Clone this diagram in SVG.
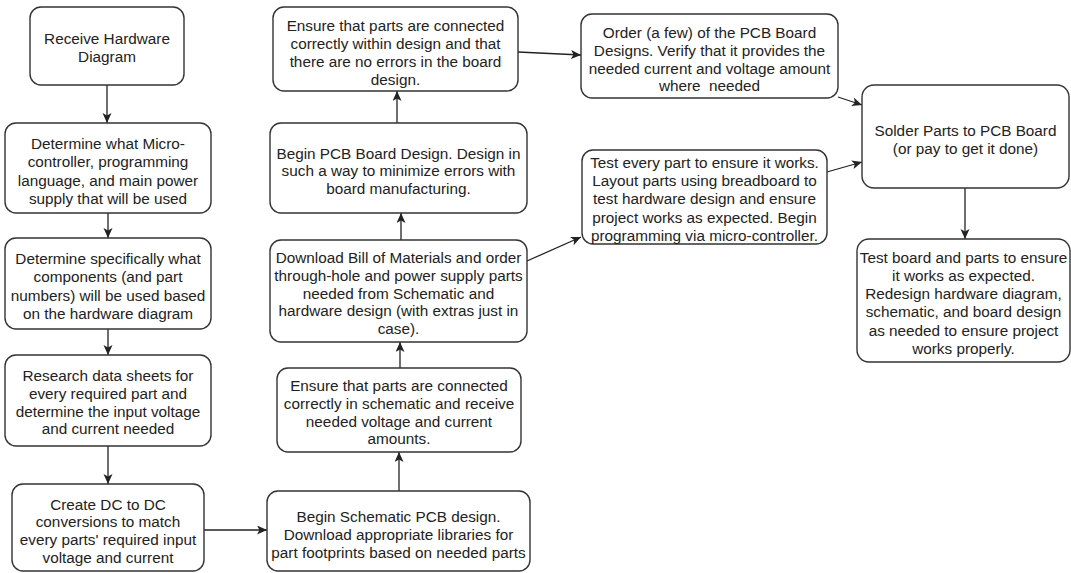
<svg xmlns="http://www.w3.org/2000/svg" width="1071" height="573" viewBox="0 0 1071 573">
<style>
.box{fill:#fff;stroke:#333;stroke-width:1.4}
.t{font-family:"Liberation Sans",Arial,sans-serif;font-size:15.3px;fill:#222;text-anchor:middle}
.c{fill:none;stroke:#222;stroke-width:1.3}
</style>
<defs>
<marker id="a" markerUnits="userSpaceOnUse" markerWidth="12" markerHeight="10" refX="10" refY="4.5" orient="auto">
<path d="M0,0 L10,4.5 L0,9 L2.5,4.5 Z" fill="#222"/>
</marker>
</defs>
<rect width="1071" height="573" fill="#fff"/>
<g id="connectors">
<path class="c" d="M107,85 V123" marker-end="url(#a)"/>
<path class="c" d="M108,213 V238" marker-end="url(#a)"/>
<path class="c" d="M108,329 V355" marker-end="url(#a)"/>
<path class="c" d="M108,446 V484" marker-end="url(#a)"/>
<path class="c" d="M204,530 H267" marker-end="url(#a)"/>
<path class="c" d="M399,491 V452" marker-end="url(#a)"/>
<path class="c" d="M400,368 V342" marker-end="url(#a)"/>
<path class="c" d="M401,240 V213" marker-end="url(#a)"/>
<path class="c" d="M397,123 V91" marker-end="url(#a)"/>
<path class="c" d="M518,52 L581,55" marker-end="url(#a)"/>
<path class="c" d="M527,261 L581,237" marker-end="url(#a)"/>
<path class="c" d="M838,97 L862,105" marker-end="url(#a)"/>
<path class="c" d="M827,172 L862,162" marker-end="url(#a)"/>
<path class="c" d="M965,188 V239" marker-end="url(#a)"/>
</g>
<g id="n1"><rect class="box" x="30" y="7" width="154" height="78" rx="11"/>
<text class="t" x="107"><tspan x="107" y="43.5">Receive Hardware</tspan><tspan x="107" y="62">Diagram</tspan></text></g>
<g id="n2"><rect class="box" x="5" y="123" width="206" height="90" rx="11"/>
<text class="t"><tspan x="108" y="148.5">Determine what Micro-</tspan><tspan x="108" y="167">controller, programming</tspan><tspan x="108" y="185.5">language, and main power</tspan><tspan x="108" y="203.5">supply that will be used</tspan></text></g>
<g id="n3"><rect class="box" x="5" y="238" width="206" height="91" rx="11"/>
<text class="t"><tspan x="108" y="263.5">Determine specifically what</tspan><tspan x="108" y="282">components (and part</tspan><tspan x="108" y="300.5">numbers) will be used based</tspan><tspan x="108" y="318.5">on the hardware diagram</tspan></text></g>
<g id="n4"><rect class="box" x="5" y="355" width="206" height="91" rx="11"/>
<text class="t"><tspan x="108" y="380.5">Research data sheets for</tspan><tspan x="108" y="398.5">every required part and</tspan><tspan x="108" y="416.5">determine the input voltage</tspan><tspan x="108" y="434">and current needed</tspan></text></g>
<g id="n5"><rect class="box" x="12" y="484" width="192" height="87" rx="11"/>
<text class="t"><tspan x="108" y="509.5">Create DC to DC</tspan><tspan x="108" y="527">conversions to match</tspan><tspan x="108" y="545">every parts' required input</tspan><tspan x="108" y="562.5">voltage and current</tspan></text></g>
<g id="n6"><rect class="box" x="267" y="491" width="263" height="80" rx="11"/>
<text class="t"><tspan x="398.5" y="521.5">Begin Schematic PCB design.</tspan><tspan x="398.5" y="539.5">Download appropriate libraries for</tspan><tspan x="398.5" y="557.5">part footprints based on needed parts</tspan></text></g>
<g id="n7"><rect class="box" x="277" y="368" width="244" height="84" rx="11"/>
<text class="t"><tspan x="399" y="390.5">Ensure that parts are connected</tspan><tspan x="399" y="408.5">correctly in schematic and receive</tspan><tspan x="399" y="426.5">needed voltage and current</tspan><tspan x="399" y="444">amounts.</tspan></text></g>
<g id="n8"><rect class="box" x="270" y="240" width="257" height="102" rx="11"/>
<text class="t"><tspan x="398.5" y="262.5">Download Bill of Materials and order</tspan><tspan x="398.5" y="280.5">through-hole and power supply parts</tspan><tspan x="398.5" y="298.5">needed from Schematic and</tspan><tspan x="398.5" y="316">hardware design (with extras just in</tspan><tspan x="398.5" y="334">case).</tspan></text></g>
<g id="n9"><rect class="box" x="270" y="123" width="257" height="90" rx="11"/>
<text class="t"><tspan x="398.5" y="158.5">Begin PCB Board Design. Design in</tspan><tspan x="398.5" y="176">such a way to minimize errors with</tspan><tspan x="398.5" y="194">board manufacturing.</tspan></text></g>
<g id="n10"><rect class="box" x="273" y="7" width="245" height="84" rx="11"/>
<text class="t"><tspan x="395.5" y="30.5">Ensure that parts are connected</tspan><tspan x="395.5" y="48.5">correctly within design and that</tspan><tspan x="395.5" y="67">there are no errors in the board</tspan><tspan x="395.5" y="85">design.</tspan></text></g>
<g id="n11"><rect class="box" x="581" y="14" width="257" height="84" rx="11"/>
<text class="t" xml:space="preserve"><tspan x="709.5" y="37.5">Order (a few) of the PCB Board</tspan><tspan x="709.5" y="55.5">Designs. Verify that it provides the</tspan><tspan x="709.5" y="73.5">needed current and voltage amount</tspan><tspan x="709.5" y="91">where  needed</tspan></text></g>
<g id="n12"><rect class="box" x="582" y="150" width="245" height="94" rx="11"/>
<text class="t"><tspan x="704.5" y="167.5">Test every part to ensure it works.</tspan><tspan x="704.5" y="185.5">Layout parts using breadboard to</tspan><tspan x="704.5" y="204">test hardware design and ensure</tspan><tspan x="704.5" y="222.5">project works as expected. Begin</tspan><tspan x="704.5" y="240.5">programming via micro-controller.</tspan></text></g>
<g id="n13"><rect class="box" x="862" y="85" width="207" height="103" rx="12"/>
<text class="t"><tspan x="965.5" y="135.5">Solder Parts to PCB Board</tspan><tspan x="965.5" y="153.5">(or pay to get it done)</tspan></text></g>
<g id="n14"><rect class="box" x="857" y="239" width="213" height="123" rx="12"/>
<text class="t"><tspan x="963.5" y="262.5">Test board and parts to ensure</tspan><tspan x="963.5" y="280.5">it works as expected.</tspan><tspan x="963.5" y="298.5">Redesign hardware diagram,</tspan><tspan x="963.5" y="317">schematic, and board design</tspan><tspan x="963.5" y="335.5">as needed to ensure project</tspan><tspan x="963.5" y="353.5">works properly.</tspan></text></g>
</svg>
